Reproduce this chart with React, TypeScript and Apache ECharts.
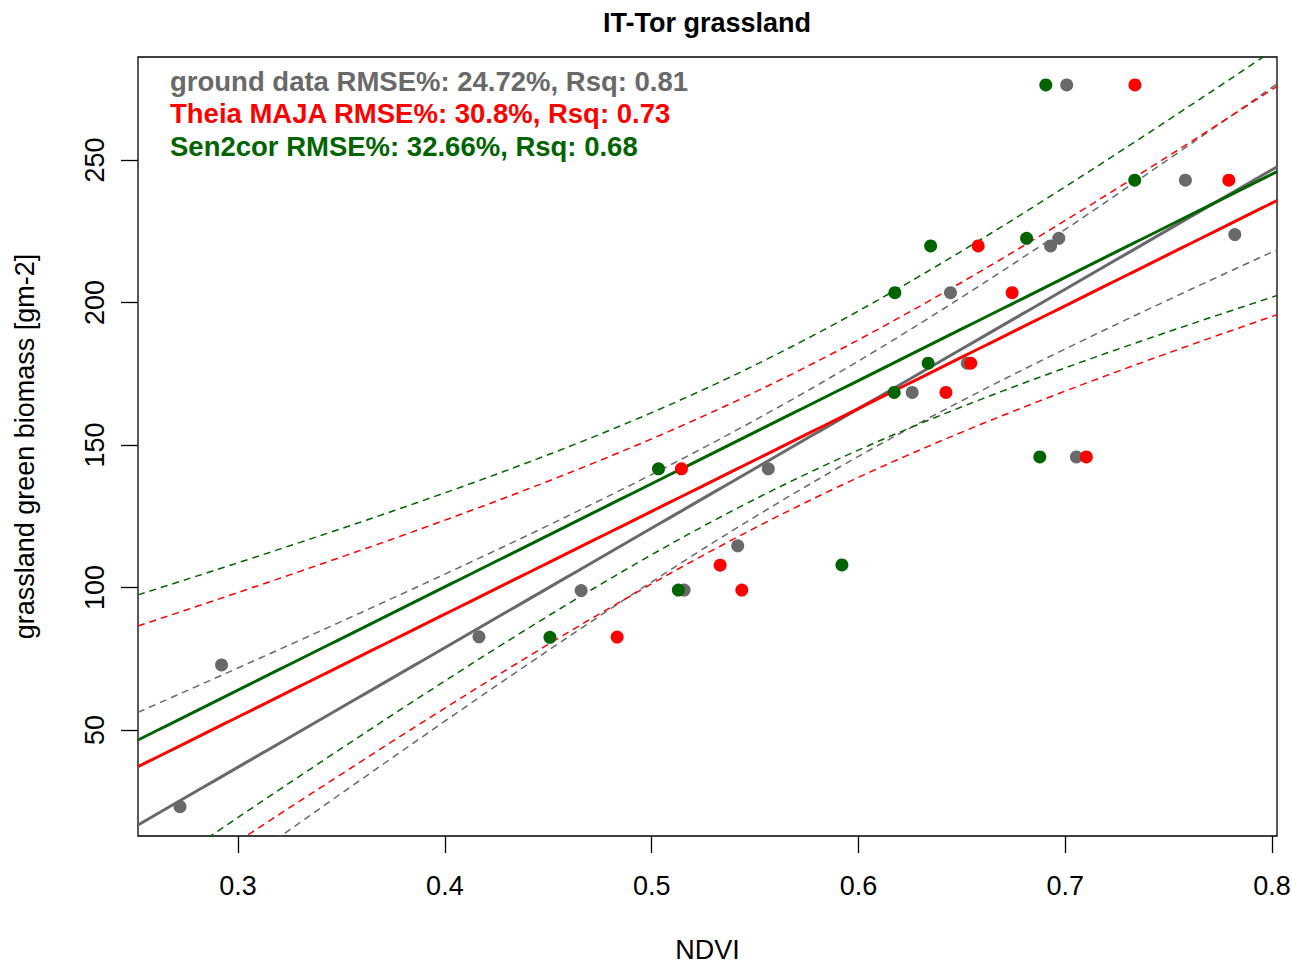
import React, { useEffect, useRef } from "react";
import * as echarts from "echarts";

// ---- points ----
const groundNdvi = [0.2719, 0.292, 0.4165, 0.4659, 0.5157, 0.5416, 0.5564, 0.626, 0.6445, 0.6526, 0.6929, 0.6969, 0.7007, 0.7054, 0.7581, 0.782];
const groundBiomass = [23.1, 72.8, 82.7, 98.9, 99.1, 114.6, 141.6, 168.4, 203.4, 178.7, 219.8, 222.5, 276.3, 145.8, 242.9, 223.8];

const majaNdvi = [0.7337, 0.7791, 0.6579, 0.6743, 0.6543, 0.6423, 0.7102, 0.5144, 0.5331, 0.5436, 0.4833];
const majaBiomass = [276.3, 242.9, 219.8, 203.4, 178.7, 168.4, 145.8, 141.6, 107.8, 99.1, 82.6];

const senNdvi = [0.6906, 0.7336, 0.6349, 0.6813, 0.6176, 0.6337, 0.6173, 0.6877, 0.5033, 0.592, 0.5129, 0.4508];
const senBiomass = [276.3, 242.9, 219.8, 222.5, 203.4, 178.7, 168.4, 145.8, 141.6, 107.9, 99.1, 82.5];

// ---- fitted lines and 95% confidence bands ----
// order: ground data, Theia MAJA, Sen2cor
const fitIntercept = [-88.8, -53.6, -44.6];
const fitSlope = [419.2, 360.6, 362.0];
const bandCentre = [0.582, 0.567, 0.556];
const bandMinHalfWidth = [16.6, 23.7, 23.5];
const bandGrowth = [108.5, 137.3, 148.4];

const xTicks = [0.3, 0.4, 0.5, 0.6, 0.7, 0.8];
const yTicks = [50, 100, 150, 200, 250];
const xRange = [0.2516, 0.8024];
const yRange = [12.8, 286.1];

const titleText = "IT-Tor grassland";
const xName = "NDVI";
const yName = "grassland green biomass [gm-2]";
const statLines = [
  "ground data RMSE%: 24.72%, Rsq: 0.81",
  "Theia MAJA RMSE%: 30.8%, Rsq: 0.73",
  "Sen2cor RMSE%: 32.66%, Rsq: 0.68",
];

const GRAY = "#696969";
const RED = "#ff0000";
const GREEN = "#006400";
const COLORS = [GRAY, RED, GREEN];
const NAMES = ["ground data", "Theia MAJA", "Sen2cor"];

function bands(i: number) {
  const a = fitIntercept[i], b = fitSlope[i];
  const x0 = bandCentre[i], h0 = bandMinHalfWidth[i], k = bandGrowth[i];
  const fit: number[][] = [], lo: number[][] = [], hi: number[][] = [];
  const steps = 120;
  for (let s = 0; s <= steps; s++) {
    const x = xRange[0] + ((xRange[1] - xRange[0]) * s) / steps;
    const yhat = a + b * x;
    const hw = Math.sqrt(h0 * h0 + k * k * (x - x0) * (x - x0));
    fit.push([x, yhat]);
    lo.push([x, yhat - hw]);
    hi.push([x, yhat + hw]);
  }
  return { fit, lo, hi };
}

const FONT = "'Liberation Sans', Arial, Helvetica, sans-serif";

function groupSeries(i: number, z: number) {
  const { fit, lo, hi } = bands(i);
  const color = COLORS[i];
  const line = (data: number[][], dashed: boolean) => ({
    type: "line",
    name: NAMES[i],
    data,
    showSymbol: false,
    symbol: "none",
    clip: true,
    z,
    silent: true,
    lineStyle: dashed ? { color, width: 1.5, type: [7, 5] } : { color, width: 3 },
  });
  return [line(fit, false), line(lo, true), line(hi, true)];
}

function scatter(i: number, xs: number[], ys: number[], z: number) {
  return {
    type: "scatter",
    name: NAMES[i],
    data: xs.map((x, j) => [x, ys[j]]),
    symbol: "circle",
    symbolSize: 13,
    itemStyle: { color: COLORS[i], opacity: 1 },
    z,
  };
}

export default function App() {
  const ref = useRef<HTMLDivElement>(null);
  useEffect(() => {
    if (!ref.current) return;
    const chart = echarts.init(ref.current, null, { renderer: "svg" });
    const option: any = {
      animation: false,
      backgroundColor: "#ffffff",
      textStyle: { fontFamily: FONT },
      grid: {
        left: 138,
        top: 57,
        width: 1139,
        height: 779,
        show: true,
        borderColor: "#000",
        borderWidth: 1.3,
        backgroundColor: "transparent",
        containLabel: false,
        outerBoundsMode: "none",
      },
      xAxis: {
        type: "value",
        min: xRange[0],
        max: xRange[1],
        name: xName,
        nameLocation: "middle",
        nameGap: 100,
        nameTextStyle: { fontSize: 27, lineHeight: 27, color: "#000", fontFamily: FONT },
        axisLine: { show: false },
        axisTick: { show: true, length: 17, inside: false, customValues: xTicks, lineStyle: { color: "#000", width: 1.3 } },
        axisLabel: {
          customValues: xTicks,
          margin: 36,
          fontSize: 27,
          color: "#000",
          fontFamily: FONT,
          formatter: (v: number) => v.toFixed(1),
        },
        splitLine: { show: false },
      },
      yAxis: {
        type: "value",
        min: yRange[0],
        max: yRange[1],
        name: yName,
        nameLocation: "middle",
        nameRotate: 90,
        nameGap: 100,
        nameTextStyle: { fontSize: 27, color: "#000", fontFamily: FONT },
        axisLine: { show: false },
        axisTick: { show: true, length: 17, inside: false, customValues: yTicks, lineStyle: { color: "#000", width: 1.3 } },
        axisLabel: {
          customValues: yTicks,
          rotate: 90,
          margin: 30,
          fontSize: 27,
          color: "#000",
          fontFamily: FONT,
        },
        splitLine: { show: false },
      },
      graphic: [
        {
          type: "text",
          x: 707,
          y: 23,
          style: {
            text: titleText,
            font: `bold 27px ${FONT}`,
            fill: "#000",
            textAlign: "center",
            textVerticalAlign: "middle",
          },
        },
        ...statLines.map((t, i) => ({
          type: "text",
          x: 170,
          y: 81 + i * 32.5,
          style: {
            text: t,
            font: `bold 27.5px ${FONT}`,
            fill: COLORS[i],
            textAlign: "left",
            textVerticalAlign: "middle",
          },
        })),
      ],
      series: [
        ...groupSeries(0, 3),
        ...groupSeries(1, 3),
        ...groupSeries(2, 3),
        scatter(0, groundNdvi, groundBiomass, 5),
        scatter(1, majaNdvi, majaBiomass, 6),
        scatter(2, senNdvi, senBiomass, 7),
      ],
    };
    chart.setOption(option);
    return () => chart.dispose();
  }, []);
  return (
    <div
      ref={ref}
      style={{ position: "fixed", left: 0, top: 0, width: 1292, height: 964, background: "#fff" }}
    />
  );
}
